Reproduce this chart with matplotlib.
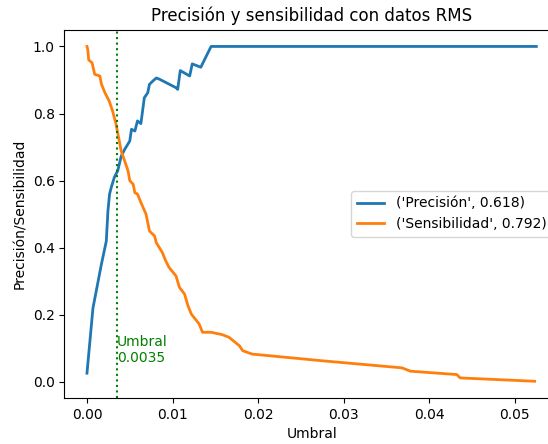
import matplotlib
matplotlib.use('Agg')
import matplotlib.pyplot as plt

# Umbrales y curvas de precisión / sensibilidad (datos RMS)
umbral_prec = [0.0, 0.0007, 0.00168, 0.00226, 0.00245, 0.00264, 0.00284, 0.0032, 0.0036,
               0.004, 0.0044, 0.005, 0.0052, 0.0056, 0.0059, 0.0063, 0.0067, 0.0071,
               0.0073, 0.0077, 0.0081, 0.0085, 0.0104, 0.0106, 0.0109, 0.012, 0.0123,
               0.0133, 0.0145, 0.0525]
precision = [0.026, 0.22, 0.35, 0.42, 0.51, 0.56, 0.58, 0.61, 0.63,
             0.673, 0.693, 0.718, 0.753, 0.748, 0.778, 0.77, 0.847, 0.862,
             0.887, 0.897, 0.906, 0.902, 0.877, 0.872, 0.928, 0.912, 0.948,
             0.938, 1.0, 1.0]

umbral_sens = [0.0, 0.0001, 0.0002, 0.0006, 0.0009, 0.0015, 0.0017, 0.0021, 0.0026,
               0.003, 0.0034, 0.0037, 0.004, 0.0044, 0.0048, 0.005, 0.0054, 0.0056,
               0.0059, 0.0063, 0.0069, 0.0073, 0.0079, 0.0081, 0.0088, 0.0092, 0.0096,
               0.0104, 0.0108, 0.0114, 0.0118, 0.0122, 0.0131, 0.0135, 0.0145, 0.0158,
               0.0166, 0.0178, 0.0182, 0.0193, 0.0275, 0.0368, 0.0378, 0.0432, 0.0436,
               0.0523]
sensibilidad = [1.0, 0.99, 0.96, 0.951, 0.917, 0.912, 0.887, 0.862, 0.837,
                0.807, 0.768, 0.728, 0.688, 0.659, 0.629, 0.6, 0.589, 0.564,
                0.56, 0.535, 0.5, 0.45, 0.435, 0.415, 0.386, 0.361, 0.341,
                0.316, 0.282, 0.262, 0.227, 0.202, 0.173, 0.148, 0.148, 0.141,
                0.133, 0.108, 0.093, 0.083, 0.063, 0.042, 0.032, 0.022, 0.012,
                0.002]

umbral_opt = 0.0035
etiquetas = [('Precisión', 0.618), ('Sensibilidad', 0.792)]

fig = plt.figure(figsize=(5.48, 4.44), dpi=100)
ax = fig.add_axes([0.1177, 0.1036, 0.902, 0.8295])

ax.plot(umbral_prec, precision, linewidth=2, label=str(etiquetas[0]))
ax.plot(umbral_sens, sensibilidad, linewidth=2, label=str(etiquetas[1]))
ax.axvline(umbral_opt, color='g', linestyle=':', linewidth=1.5)
ax.text(umbral_opt, 0.05, f'Umbral\n{umbral_opt}', color='g', va='bottom')

ax.set_title('Precisión y sensibilidad con datos RMS')
ax.set_xlabel('Umbral')
ax.set_ylabel('Precisión/Sensibilidad')
ax.legend(loc='center right')

fig.savefig('out.png', dpi=100)
